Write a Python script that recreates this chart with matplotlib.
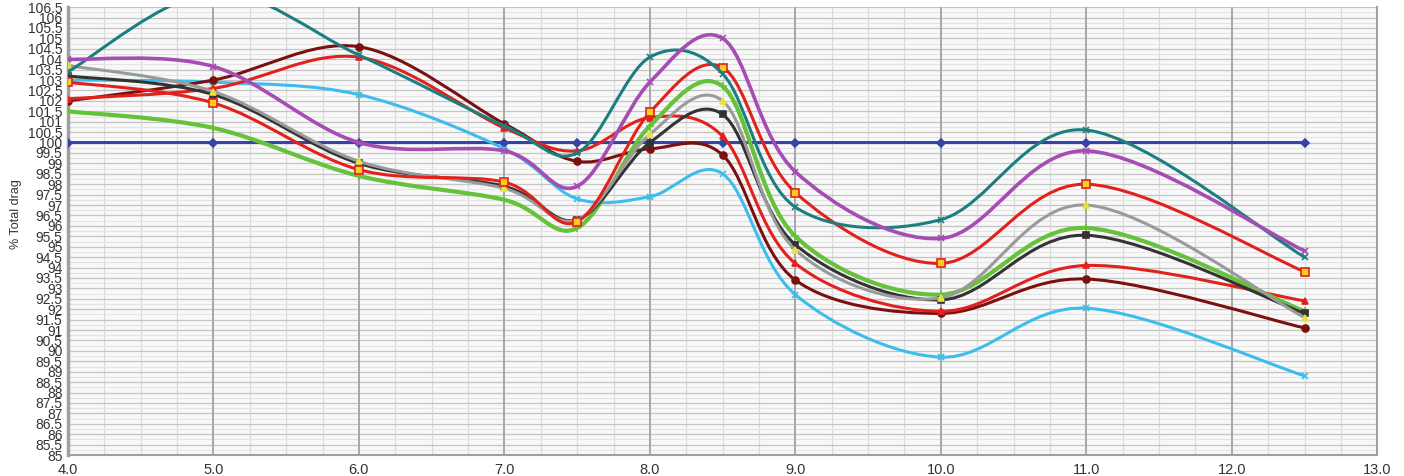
import numpy as np
import matplotlib
matplotlib.use("Agg")
import matplotlib.pyplot as plt
from matplotlib.path import Path
from matplotlib.patches import PathPatch
from matplotlib.ticker import MultipleLocator

plt.rcParams["font.family"] = ["Liberation Sans", "DejaVu Sans"]

# Data
x = [4.0, 5.0, 6.0, 7.0, 7.5, 8.0, 8.5, 9.0, 10.0, 11.0, 12.5]

baseline = [100, 100, 100, 100, 100, 100, 100, 100, 100, 100, 100]
teal = [103.4, 107.2, 104.2, 100.8, 99.5, 104.1, 103.3, 96.9, 96.3, 100.6, 94.5]
purple = [104.0, 103.65, 100.0, 99.6, 97.9, 102.9, 105.0, 98.6, 95.4, 99.6, 94.8]
red_sq = [102.9, 101.9, 98.7, 98.1, 96.2, 101.45, 103.6, 97.6, 94.2, 98.0, 93.8]
red_tri = [102.1, 102.6, 104.1, 100.7, 99.6, 101.2, 100.3, 94.2, 91.9, 94.1, 92.4]
darkred = [102.0, 103.0, 104.6, 100.9, 99.1, 99.7, 99.4, 93.4, 91.8, 93.45, 91.1]
cyan = [103.0, 102.9, 102.3, 99.7, 97.3, 97.4, 98.5, 92.7, 89.7, 92.05, 88.8]
gray = [103.7, 102.45, 99.1, 97.8, 96.3, 100.4, 102.0, 94.85, 92.55, 97.0, 91.6]
dkgray = [103.2, 102.3, 99.0, 97.9, 96.3, 100.0, 101.35, 95.1, 92.45, 95.55, 91.8]
green = [101.5, 100.7, 98.4, 97.25, 95.9, 100.8, 102.7, 95.5, 92.7, 95.9, 91.9]

xticks = [4.0, 5.0, 6.0, 7.0, 8.0, 9.0, 10.0, 11.0, 12.0, 13.0]

# (values, line colour, width, marker, marker face, marker edge, marker size)
series = [
    (baseline, "#3443A6", 2.2, "D", "#3443A6", "#3443A6", 4),
    (cyan, "#3DBDEB", 2.2, "x", "#3DBDEB", "#3DBDEB", 5),
    (darkred, "#7A1010", 2.2, "o", "#7A1010", "#7A1010", 5),
    (red_tri, "#E3211C", 2.2, "^", "#E3211C", "#E3211C", 5),
    (green, "#66C23A", 3.0, "+", "#66C23A", "#66C23A", 6),
    (dkgray, "#333333", 2.2, "s", "#333333", "#333333", 4),
    (gray, "#9A9A9A", 2.2, "^", "#E8E23A", "#E8E23A", 4),
    (red_sq, "#E3211C", 2.2, "s", "#F5D020", "#E3211C", 6),
    (teal, "#1B7F7F", 2.2, "x", "#1B7F7F", "#1B7F7F", 5),
    (purple, "#A64DB4", 2.6, "x", "#A64DB4", "#A64DB4", 5),
]


def smooth_path(xs, ys):
    # Excel-style smoothed line: cubic Bezier with 1/6 neighbour tangents
    pts = np.column_stack([xs, ys]).astype(float)
    n = len(pts)
    verts = [pts[0]]
    codes = [Path.MOVETO]
    for i in range(n - 1):
        p_prev = pts[i - 1] if i > 0 else pts[i]
        p_next2 = pts[i + 2] if i + 2 < n else pts[i + 1]
        c1 = pts[i] + (pts[i + 1] - p_prev) / 6.0
        c2 = pts[i + 1] - (p_next2 - pts[i]) / 6.0
        verts += [c1, c2, pts[i + 1]]
        codes += [Path.CURVE4] * 3
    return Path(verts, codes)


fig = plt.figure(figsize=(14.04, 4.76), dpi=100)
ax = fig.add_axes([0.0484, 0.044, 0.9326, 0.941])
ax.set_facecolor("#F8F8F8")

for z, (vals, col, lw, mk, mfc, mec, ms) in enumerate(series):
    patch = PathPatch(smooth_path(x, vals), fill=False, edgecolor=col,
                      lw=lw, capstyle="round", joinstyle="round", zorder=3 + z)
    ax.add_patch(patch)
    ax.plot(x, vals, linestyle="none", marker=mk, markerfacecolor=mfc,
            markeredgecolor=mec, markersize=ms, markeredgewidth=1.2,
            zorder=3.5 + z)

ax.set_xlim(4.0, 13.0)
ax.set_ylim(85, 106.5)
ax.set_xticks(xticks)
ax.set_xticklabels([f"{v:.1f}" for v in xticks])
ax.xaxis.set_minor_locator(MultipleLocator(0.25))
yt = np.arange(85, 106.51, 0.5)
ax.set_yticks(yt)
ax.set_yticklabels([f"{v:g}" for v in yt])
ax.yaxis.set_minor_locator(MultipleLocator(0.25))

ax.grid(which="minor", axis="x", color="#DADADA", lw=0.9)
ax.grid(which="major", axis="y", color="#C4C4C4", lw=0.9)
ax.grid(which="minor", axis="y", color="#E4E4E4", lw=0.7)
for xv in xticks:
    ax.axvline(xv, color="#A8A8A8", lw=1.4, zorder=1)
ax.set_axisbelow(True)

ax.tick_params(axis="y", which="both", length=0, labelsize=10,
               labelcolor="#333333", pad=4)
ax.tick_params(axis="x", which="both", length=0, labelsize=10.5,
               labelcolor="#333333", pad=6)
for side in ["left", "bottom", "right", "top"]:
    ax.spines[side].set_color("#A0A0A0")
ax.spines["left"].set_linewidth(2.5)
ax.spines["bottom"].set_linewidth(1.5)
ax.spines["right"].set_linewidth(1.5)
ax.spines["top"].set_visible(False)

fig.text(0.007, 0.55, "% Total drag", rotation=90, fontsize=9,
         color="#333333", ha="left", va="center")

fig.savefig("out.png", dpi=100)
